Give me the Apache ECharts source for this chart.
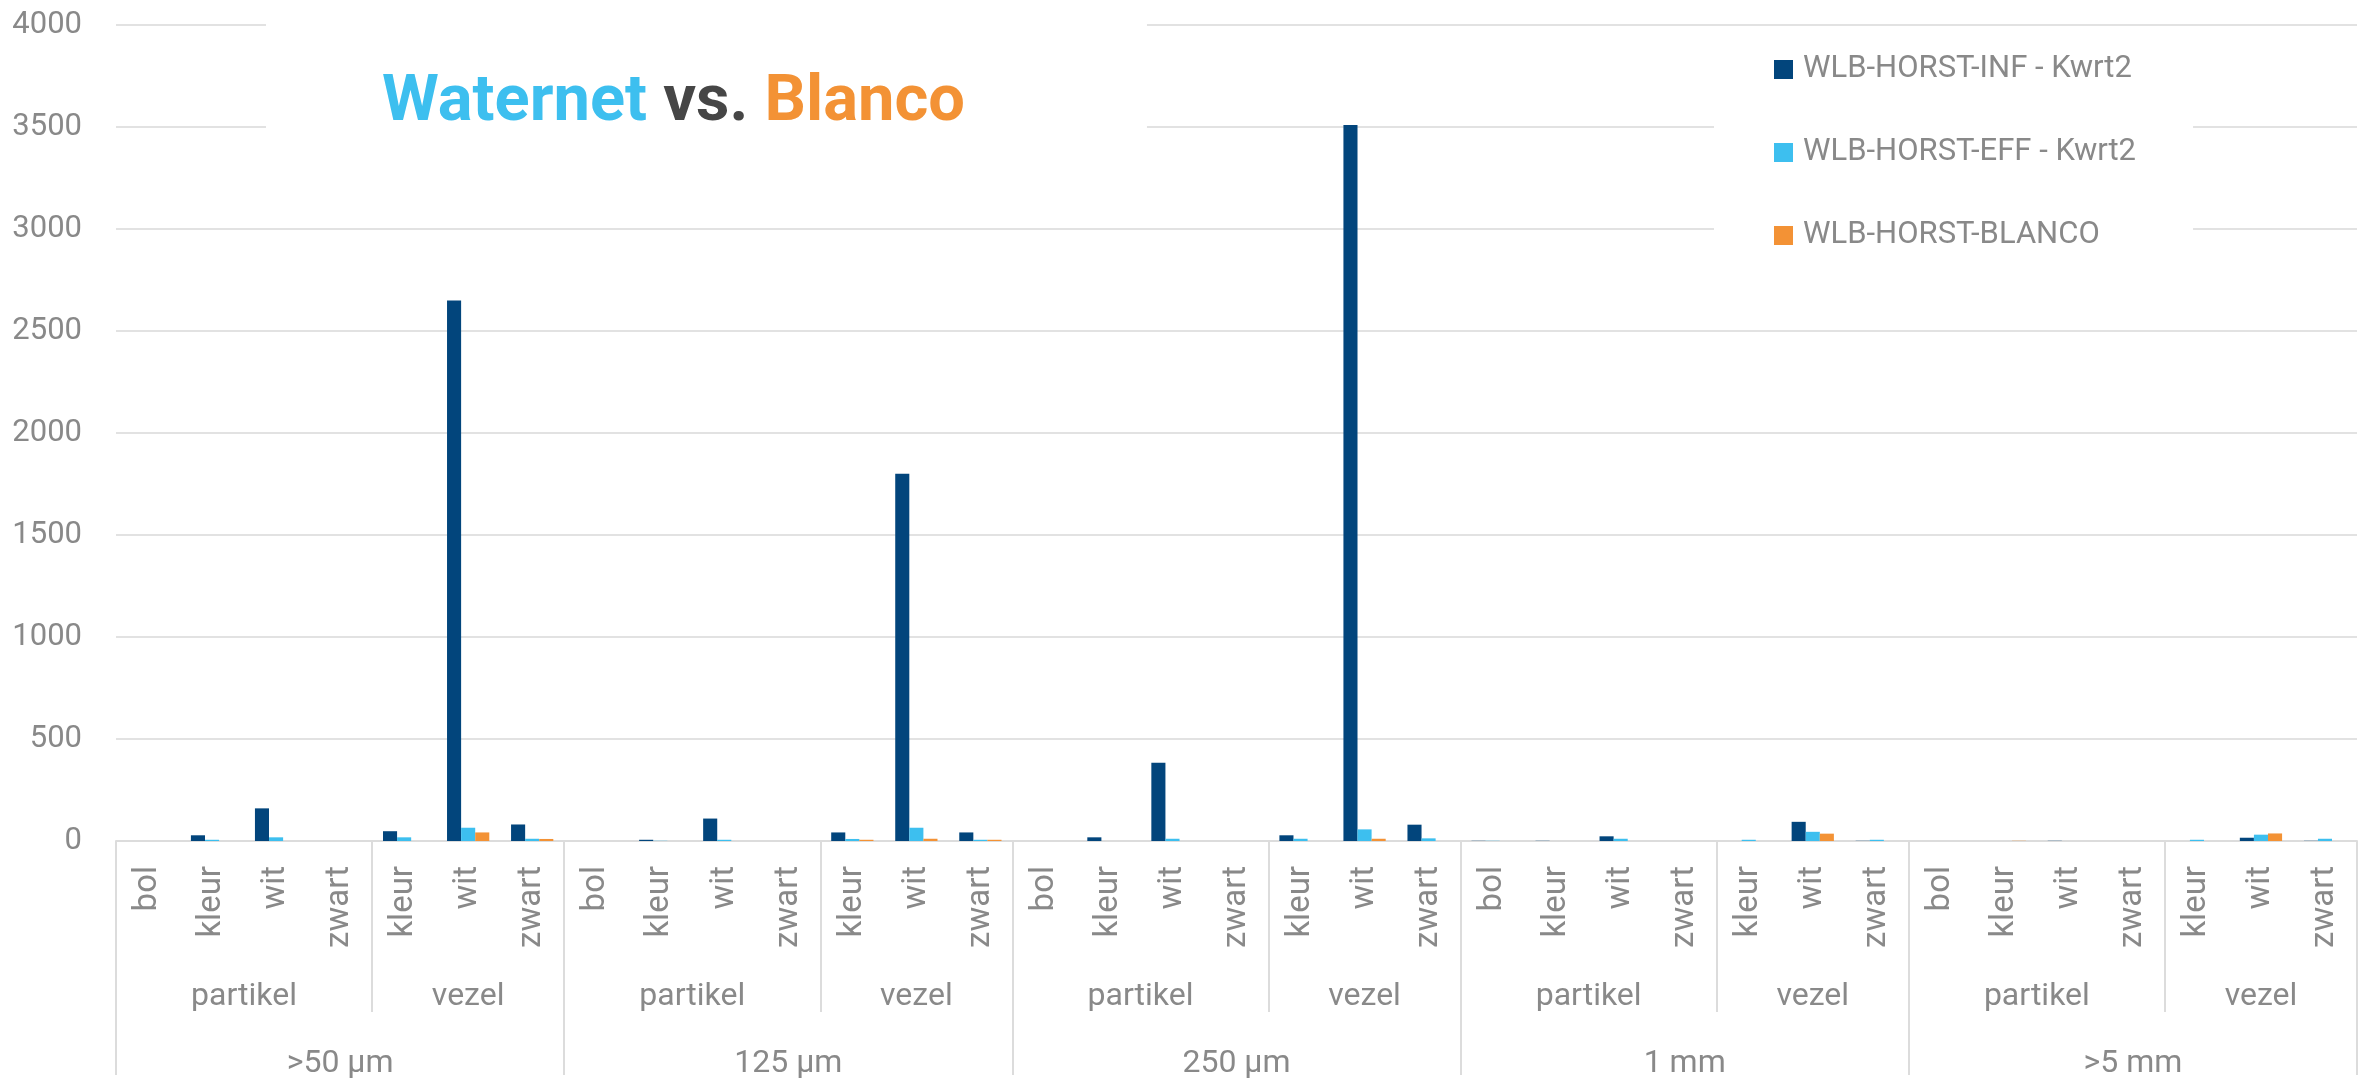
<!DOCTYPE html>
<html>
<head>
<meta charset="utf-8">
<script src="https://cdn.jsdelivr.net/npm/echarts@6/dist/echarts.min.js"></script>
<style>
  html, body { margin: 0; padding: 0; background: #fff; }
  #chart { width: 2369px; height: 1080px; }
</style>
</head>
<body>
<div id="chart"></div>
<script>
// size classes, and within each the particle / fibre sub-types
const sizeClasses = ['>50 µm', '125 µm', '250 µm', '1 mm', '>5 mm'];
const shapes = ['partikel', 'vezel'];
const partikelTypes = ['bol', 'kleur', 'wit', 'zwart'];
const vezelTypes = ['kleur', 'wit', 'zwart'];

const seriesNames = ['WLB-HORST-INF - Kwrt2', 'WLB-HORST-EFF - Kwrt2', 'WLB-HORST-BLANCO'];

// values per category, in axis order (7 per size class)
const infKwrt2 = [
  0, 28, 160, 0, 48, 2650, 81,
  0, 6, 110, 0, 42, 1800, 42,
  0, 18, 383, 0, 28, 3510, 80,
  1, 1, 23, 0, 0, 94, 1,
  0, 0, 1, 0, 0, 16, 1
];
const effKwrt2 = [
  0, 6, 18, 0, 18, 65, 11,
  0, 1, 6, 0, 10, 65, 6,
  0, 0, 11, 0, 11, 57, 13,
  1, 0, 11, 0, 6, 45, 6,
  0, 0, 0, 0, 6, 31, 11
];
const blanco = [
  0, 0, 0, 0, 0, 42, 10,
  0, 0, 0, 0, 6, 11, 6,
  0, 0, 0, 0, 0, 11, 0,
  0, 0, 0, 0, 0, 36, 0,
  0, 1, 0, 0, 0, 37, 0
];

const yMax = 4000;
const yStep = 500;

const colors = ['#02457C', '#3DBFEF', '#F39235'];
const txt = '#898989';
const lineCol = '#dcdcdc';
const font = 'Roboto';

// build the 3-level axis from the arrays above
let categories = [];
let shapeBounds = [0], shapeCenters = [], shapeLabel = {};
let sizeBounds = [0], sizeCenters = [], sizeLabel = {};
let pos = 0;
sizeClasses.forEach(sz => {
  let start = pos;
  [partikelTypes, vezelTypes].forEach((types, i) => {
    let c = pos + types.length / 2;
    shapeCenters.push(c);
    shapeLabel[c] = shapes[i];
    categories = categories.concat(types);
    pos += types.length;
    shapeBounds.push(pos);
  });
  let c = (start + pos) / 2;
  sizeCenters.push(c);
  sizeLabel[c] = sz;
  sizeBounds.push(pos);
});

const chart = echarts.init(document.getElementById('chart'));

chart.setOption({
  backgroundColor: '#fff',
  animation: false,
  color: colors,
  title: {
    text: '{w|Waternet }{v|vs. }{b|Blanco}',
    left: 266,
    top: 10,
    padding: [61, 182, 14, 116],
    backgroundColor: '#fff',
    textStyle: {
      fontFamily: font,
      fontWeight: 'bold',
      fontSize: 65,
      rich: {
        w: { color: '#3DBFEF', fontFamily: font, fontWeight: 'bold', fontSize: 65, lineHeight: 65 },
        v: { color: '#464646', fontFamily: font, fontWeight: 'bold', fontSize: 65, lineHeight: 65 },
        b: { color: '#F39235', fontFamily: font, fontWeight: 'bold', fontSize: 65, lineHeight: 65 }
      }
    }
  },
  legend: {
    orient: 'vertical',
    left: 1714,
    top: 33,
    padding: [20, 57, 20, 60],
    backgroundColor: '#fff',
    icon: 'rect',
    itemWidth: 19,
    itemHeight: 19,
    itemGap: 50,
    data: seriesNames,
    textStyle: { fontFamily: font, fontSize: 31, lineHeight: 33, color: txt, padding: [0, 0, 0, 5] }
  },
  grid: {
    left: 116,
    right: 12,
    top: 25,
    bottom: 234
  },
  xAxis: [
    {
      type: 'category',
      data: categories,
      axisLine: { lineStyle: { color: lineCol, width: 2 } },
      axisTick: { show: false },
      axisLabel: {
        interval: 0,
        rotate: 90,
        margin: 25,
        fontFamily: font,
        fontSize: 33,
        color: txt
      }
    },
    {
      type: 'value',
      min: 0,
      max: categories.length,
      position: 'bottom',
      axisLine: { show: false },
      splitLine: { show: false },
      axisTick: {
        show: true,
        customValues: shapeBounds,
        length: 171,
        lineStyle: { color: lineCol, width: 2 }
      },
      axisLabel: {
        customValues: shapeCenters,
        formatter: v => shapeLabel[v] || '',
        margin: 140,
        fontFamily: font,
        fontSize: 32,
        color: txt
      }
    },
    {
      type: 'value',
      min: 0,
      max: categories.length,
      position: 'bottom',
      axisLine: { show: false },
      splitLine: { show: false },
      axisTick: {
        show: true,
        customValues: sizeBounds,
        length: 234,
        lineStyle: { color: lineCol, width: 2 }
      },
      axisLabel: {
        customValues: sizeCenters,
        formatter: v => sizeLabel[v] || '',
        margin: 207,
        fontFamily: font,
        fontSize: 32,
        color: txt
      }
    }
  ],
  yAxis: {
    type: 'value',
    min: 0,
    max: yMax,
    interval: yStep,
    axisLine: { show: false },
    axisTick: { show: false },
    axisLabel: { margin: 34, fontFamily: font, fontSize: 31, color: txt, formatter: v => String(v) },
    splitLine: { lineStyle: { color: '#e2e2e2', width: 2 } }
  },
  series: [
    { name: seriesNames[0], type: 'bar', data: infKwrt2, barGap: '0%', barCategoryGap: '34%' },
    { name: seriesNames[1], type: 'bar', data: effKwrt2, barGap: '0%', barCategoryGap: '34%' },
    { name: seriesNames[2], type: 'bar', data: blanco, barGap: '0%', barCategoryGap: '34%' }
  ]
});
</script>
</body>
</html>
